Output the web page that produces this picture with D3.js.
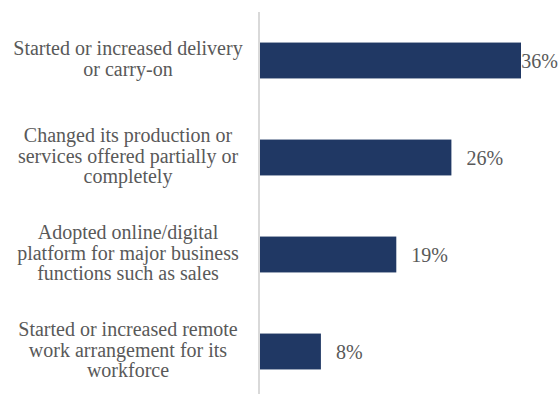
<!DOCTYPE html>
<html>
<head>
<meta charset="utf-8">
<script src="https://cdn.jsdelivr.net/npm/d3@7"></script>
<style>
  body { margin: 0; background: #fff; }
</style>
</head>
<body>
<svg id="chart" width="560" height="394"></svg>
<script>
// categories, wrapped the same way as the original labels
var categories = [
  "Started or increased delivery or carry-on",
  "Changed its production or services offered partially or completely",
  "Adopted online/digital platform for major business functions such as sales",
  "Started or increased remote work arrangement for its workforce"
];
var categoryLines = [
  ["Started or increased delivery", "or carry-on"],
  ["Changed its production or", "services offered partially or", "completely"],
  ["Adopted online/digital", "platform for major business", "functions such as sales"],
  ["Started or increased remote", "work arrangement for its", "workforce"]
];
var values = [36.0, 26.4, 18.8, 8.4];

var FONT = "'Liberation Serif', 'Times New Roman', Times, serif";

var svg = d3.select("#chart");
var W = +svg.attr("width"), H = +svg.attr("height");
var axisX = 259;

var x = d3.scaleLinear().domain([0, 40]).range([260, 550]);
var y = d3.scaleBand()
  .domain(categories)
  .range([12, 400])
  .paddingInner(0.63)
  .paddingOuter(0.315);

// bars
svg.append("g").selectAll("rect")
  .data(values)
  .enter().append("rect")
  .attr("x", x(0))
  .attr("y", (d, i) => y(categories[i]))
  .attr("width", d => x(d) - x(0))
  .attr("height", y.bandwidth())
  .attr("fill", "#203864");

// vertical axis line
svg.append("line")
  .attr("x1", axisX).attr("x2", axisX)
  .attr("y1", 12).attr("y2", H)
  .attr("stroke", "#d9d9d9")
  .attr("stroke-width", 2);

// category labels
var lh = 20.5;
var lab = svg.append("g").selectAll("text")
  .data(categoryLines)
  .enter().append("text")
  .attr("text-anchor", "middle")
  .attr("fill", "#595959")
  .attr("font-family", FONT)
  .attr("font-size", 20);
lab.each(function(lines, i) {
  var cy = y(categories[i]) + y.bandwidth() / 2;
  var t = d3.select(this);
  lines.forEach(function(s, j) {
    t.append("tspan")
      .attr("x", 128)
      .attr("y", cy + 7 + (j - (lines.length - 1) / 2) * lh - 2)
      .text(s);
  });
});

// value labels
var fmt = d => Math.round(d) + "%";
svg.append("g").selectAll("text")
  .data(values)
  .enter().append("text")
  .attr("fill", "#595959")
  .attr("font-family", FONT)
  .attr("font-size", 20)
  .attr("y", (d, i) => y(categories[i]) + y.bandwidth() / 2 + 7)
  .text(fmt)
  .attr("x", function(d) {
    var w = this.getComputedTextLength();
    return Math.min(x(d) + 15, W - 2 - w);
  });
</script>
</body>
</html>
